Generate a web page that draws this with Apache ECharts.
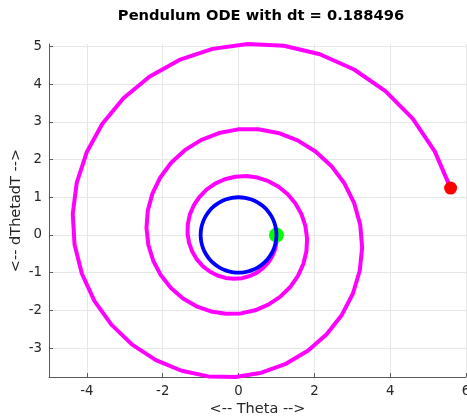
<!DOCTYPE html>
<html><head><meta charset="utf-8">
<script src="https://cdn.jsdelivr.net/npm/echarts@6/dist/echarts.min.js"></script>
<style>html,body{margin:0;padding:0;background:#fff}#c{width:467px;height:416px}</style>
</head><body><div id="c"></div>
<script>
const titleText = 'Pendulum ODE with dt = 0.188496';
const xName = '<-- Theta -->';
const yName = '<-- dThetadT -->';
const xTicks = [-4, -2, 0, 2, 4, 6];
const yTicks = [-3, -2, -1, 0, 1, 2, 3, 4, 5];

// Euler solution (101 points)
const theta = [1.0000, 1.0000, 0.9645, 0.8934, 0.7881, 0.6510, 0.4859, 0.2977, 0.0922, -0.1239, -0.3432,
  -0.5581, -0.7608, -0.9437, -1.0996, -1.2219, -1.3052, -1.3451, -1.3386, -1.2843, -1.1824,
  -1.0349, -0.8454, -0.6191, -0.3628, -0.0845, 0.2067, 0.5009, 0.7878, 1.0569, 1.2979,
  1.5014, 1.6588, 1.7629, 1.8080, 1.7905, 1.7087, 1.5633, 1.3572, 1.0955, 0.7858,
  0.4370, 0.0603, -0.3319, -0.7263, -1.1089, -1.4657, -1.7831, -2.0484, -2.2504, -2.3795,
  -2.4287, -2.3934, -2.2718, -2.0651, -1.7777, -1.4169, -0.9930, -0.5187, -0.0091, 0.5188,
  1.0471, 1.5570, 2.0297, 2.4470, 2.7922, 3.0505, 3.2096, 3.2603, 3.1969, 3.0177,
  2.7249, 2.3249, 1.8281, 1.2487, 0.6043, -0.0844, -0.7946, -1.5018, -2.1808, -2.8064,
  -3.3546, -3.8030, -4.1323, -4.3264, -4.3737, -4.2673, -4.0055, -3.5920, -3.0362, -2.3528,
  -1.5615, -0.6866, 0.2437, 1.1984, 2.1445, 3.0480, 3.8753, 4.5943, 5.1756, 5.5937];
const dThetadT = [0.0000, -0.1885, -0.3770, -0.5588, -0.7272, -0.8758, -0.9985, -1.0901, -1.1462, -1.1636, -1.1402,
  -1.0755, -0.9703, -0.8269, -0.6490, -0.4417, -0.2114, 0.0346, 0.2882, 0.5405, 0.7825,
  1.0054, 1.2005, 1.3599, 1.4766, 1.5450, 1.5609, 1.5219, 1.4275, 1.2790, 1.0797,
  0.8350, 0.5520, 0.2393, -0.0930, -0.4338, -0.7713, -1.0934, -1.3881, -1.6439, -1.8504,
  -1.9985, -2.0809, -2.0923, -2.0297, -1.8928, -1.6838, -1.4075, -1.0714, -0.6853, -0.2611,
  0.1874, 0.6452, 1.0964, 1.5246, 1.9139, 2.2490, 2.5161, 2.7033, 2.8011, 2.8027,
  2.7049, 2.5075, 2.2140, 1.8314, 1.3701, 0.8438, 0.2688, -0.3362, -0.9508, -1.5532,
  -2.1220, -2.6356, -3.0738, -3.4184, -3.6538, -3.7677, -3.7518, -3.6020, -3.3189, -2.9080,
  -2.3790, -1.7467, -1.0298, -0.2509, 0.5646, 1.3890, 2.1934, 2.9484, 3.6255, 4.1977,
  4.6412, 4.9355, 5.0649, 5.0190, 4.7931, 4.3889, 3.8144, 3.0839, 2.2179, 1.2423];

// exact solution (unit circle)
const exactTheta = [1, 0.9848, 0.9397, 0.8660, 0.7660, 0.6428, 0.5, 0.3420, 0.1736, 0, -0.1736, -0.3420, -0.5, -0.6428, -0.7660, -0.8660, -0.9397, -0.9848, -1,
  -0.9848, -0.9397, -0.8660, -0.7660, -0.6428, -0.5, -0.3420, -0.1736, 0, 0.1736, 0.3420, 0.5, 0.6428, 0.7660, 0.8660, 0.9397, 0.9848, 1];
const exactDTheta = [0, -0.1736, -0.3420, -0.5, -0.6428, -0.7660, -0.8660, -0.9397, -0.9848, -1, -0.9848, -0.9397, -0.8660, -0.7660, -0.6428, -0.5, -0.3420, -0.1736, 0,
  0.1736, 0.3420, 0.5, 0.6428, 0.7660, 0.8660, 0.9397, 0.9848, 1, 0.9848, 0.9397, 0.8660, 0.7660, 0.6428, 0.5, 0.3420, 0.1736, 0];

const startPoint = [1, 0];
const endPoint = [theta[theta.length - 1], dThetadT[dThetadT.length - 1]];

const pair = (a, b) => a.map((v, i) => [v, b[i]]);
const font = 'DejaVu Sans';
const axisCommon = {
  axisLine: { show: true, onZero: false, lineStyle: { color: '#5a5a5a', width: 1 } },
  axisTick: { show: true, inside: true, length: 4, lineStyle: { color: '#5a5a5a' } },
  axisLabel: { color: '#262626', fontFamily: font, fontSize: 13.3 },
  splitLine: { show: true, lineStyle: { color: '#e6e6e6', width: 1 } },
  nameLocation: 'middle',
  nameMoveOverlap: false,
  nameTextStyle: { color: '#262626', fontFamily: font, fontSize: 14.5 }
};
const chart = echarts.init(document.getElementById('c'), null, { renderer: 'canvas' });
chart.setOption({
  animation: false,
  backgroundColor: '#ffffff',
  title: { text: titleText, left: 256, top: 4, textAlign: 'center',
    textStyle: { fontFamily: font, fontSize: 14.7, fontWeight: 'bold', color: '#000' } },
  grid: { left: 49, right: 1, top: 44, bottom: 39, containLabel: false, outerBoundsMode: 'none' },
  xAxis: Object.assign({}, axisCommon, {
    type: 'value', min: -5, max: 6, name: xName, nameGap: 25,
    axisTick: Object.assign({}, axisCommon.axisTick, { customValues: xTicks }),
    axisLabel: Object.assign({}, axisCommon.axisLabel, { customValues: xTicks, margin: 8 })
  }),
  yAxis: Object.assign({}, axisCommon, {
    type: 'value', min: -3.768, max: 5.065, name: yName, nameGap: 25,
    axisTick: Object.assign({}, axisCommon.axisTick, { customValues: yTicks }),
    axisLabel: Object.assign({}, axisCommon.axisLabel, { customValues: yTicks, margin: 7 })
  }),
  series: [
    { type: 'line', data: pair(theta, dThetadT), showSymbol: false, clip: false,
      lineStyle: { color: '#ff00ff', width: 4 }, z: 2 },
    { type: 'scatter', data: [startPoint], symbolSize: 15, itemStyle: { color: '#00ff00', opacity: 1 }, z: 3 },
    { type: 'line', data: pair(exactTheta, exactDTheta), showSymbol: false, smooth: true, clip: false,
      lineStyle: { color: '#0000ff', width: 3.8 }, z: 4 },
    { type: 'scatter', data: [endPoint], symbolSize: 13, itemStyle: { color: '#ff0000', opacity: 1 }, z: 5 }
  ]
});
</script></body></html>
